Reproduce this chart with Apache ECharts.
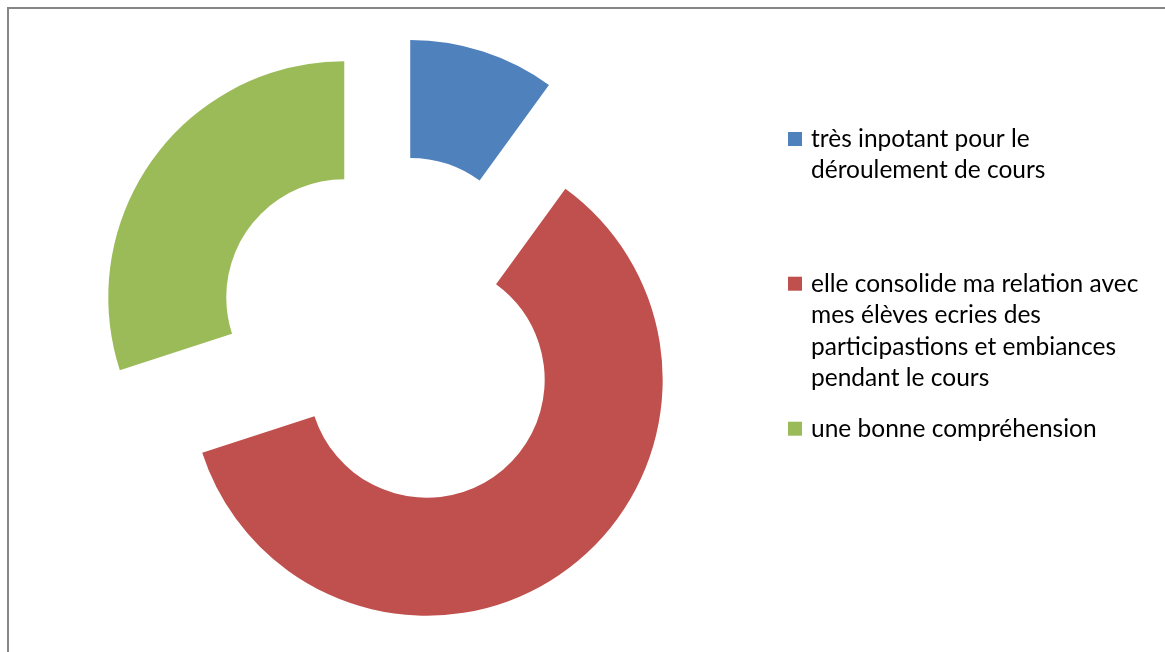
<!DOCTYPE html>
<html>
<head>
<meta charset="utf-8">
<script src="https://cdn.jsdelivr.net/npm/echarts@6/dist/echarts.min.js"></script>
<style>
html,body{margin:0;padding:0;background:#fff;}
#chart{width:1165px;height:652px;}
</style>
</head>
<body>
<div id="chart"></div>
<script>
const categories = [
  "très inpotant pour le déroulement de cours",
  "elle consolide ma relation avec mes élèves ecries des participastions et embiances pendant le cours",
  "une bonne compréhension"
];
const legendLines = [
  ["très inpotant pour le", "déroulement de cours"],
  ["elle consolide ma relation avec", "mes élèves ecries des", "participastions et embiances", "pendant le cours"],
  ["une bonne compréhension"]
];
const values = [10, 60, 30];

const colors = ["#4F81BD", "#C0504D", "#9BBB59"];
const LH = 31.5;
// icon centre y for each legend item
const iconCenters = [139, 283.7, 428.7];

const chart = echarts.init(document.getElementById('chart'), null, {renderer: 'canvas'});
const legends = categories.map((c, i) => {
  const n = legendLines[i].length;
  // (n-1) leading blank lines: block of (2n-1) lines centred on icon => first real line centred on icon
  const blockH = Math.max(14, (2 * n - 1) * LH);
  return {
    show: true,
    orient: 'vertical',
    left: 788,
    top: iconCenters[i] - blockH / 2,
    padding: 0,
    itemWidth: 14,
    itemHeight: 14,
    icon: 'rect',
    selectedMode: false,
    data: [c],
    formatter: () => '\n'.repeat(n - 1) + legendLines[i].join('\n'),
    textStyle: {
      fontFamily: 'Lato',
      fontSize: 24.5,
      color: '#000',
      lineHeight: LH,
      padding: [0, 0, 0, 4]
    }
  };
});

chart.setOption({
  animation: false,
  color: colors,
  legend: legends,
  graphic: [{
    type: 'rect',
    silent: true,
    shape: {x: 8, y: 8, width: 1200, height: 700},
    style: {fill: 'none', stroke: '#868686', lineWidth: 2}
  }],
  series: [{
    type: 'pie',
    center: [392, 332],
    radius: [118, 236],
    startAngle: 90,
    clockwise: true,
    selectedMode: 'multiple',
    selectedOffset: 59,
    avoidLabelOverlap: false,
    label: {show: false},
    labelLine: {show: false},
    emphasis: {disabled: true},
    itemStyle: {borderWidth: 0},
    data: categories.map((c, i) => ({name: c, value: values[i], selected: true}))
  }]
});
</script>
</body>
</html>
